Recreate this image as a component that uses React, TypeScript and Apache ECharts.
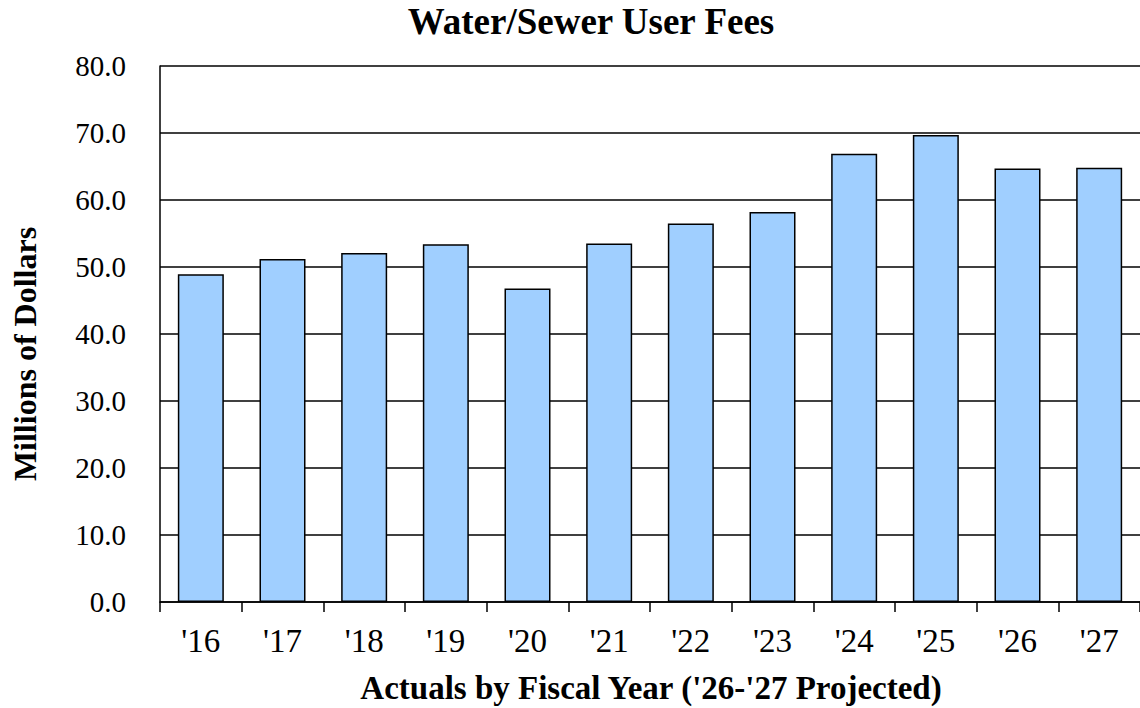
import React, { useEffect, useRef } from "react";
import * as echarts from "echarts";

const categories = ["'16", "'17", "'18", "'19", "'20", "'21", "'22", "'23", "'24", "'25", "'26", "'27"];
const values = [48.9, 51.2, 52.1, 53.4, 46.8, 53.5, 56.5, 58.2, 66.9, 69.7, 64.7, 64.8];
const yTicks = [0, 10, 20, 30, 40, 50, 60, 70, 80];

const titleText = "Water/Sewer User Fees";
const xName = "Actuals by Fiscal Year ('26-'27 Projected)";
const yName = "Millions of Dollars";

const FONT = "Liberation Serif";

export default function App() {
  const ref = useRef<HTMLDivElement>(null);
  useEffect(() => {
    document.body.style.margin = "0";
    const chart = echarts.init(ref.current!, null, { renderer: "svg" });
    chart.setOption({
      animation: false,
      backgroundColor: "#ffffff",
      textStyle: { fontFamily: FONT },
      grid: { left: 160, top: 66, width: 982, height: 536, containLabel: false },
      graphic: [
        {
          type: "text",
          x: 591,
          y: 21,
          style: {
            text: titleText,
            fontFamily: FONT,
            fontWeight: "bold",
            fontSize: 37,
            fill: "#000",
            align: "center",
            verticalAlign: "middle",
          },
        },
        {
          type: "text",
          x: 651,
          y: 688,
          style: {
            text: xName,
            fontFamily: FONT,
            fontWeight: "bold",
            fontSize: 33,
            fill: "#000",
            align: "center",
            verticalAlign: "middle",
          },
        },
        {
          type: "text",
          x: 25,
          y: 354,
          rotation: Math.PI / 2,
          style: {
            text: yName,
            fontFamily: FONT,
            fontWeight: "bold",
            fontSize: 32,
            fill: "#000",
            align: "center",
            verticalAlign: "middle",
          },
        },
      ],
      xAxis: {
        type: "category",
        data: categories,
        boundaryGap: true,
        axisLine: { show: true, lineStyle: { color: "#000", width: 1.5 } },
        axisTick: { show: true, length: 10, lineStyle: { color: "#000", width: 1.5 } },
        axisLabel: { color: "#000", fontSize: 33, fontFamily: FONT, margin: 22 },
      },
      yAxis: {
        type: "value",
        min: 0,
        max: 80,
        interval: 10,
        axisLine: { show: true, lineStyle: { color: "#000", width: 1.5 } },
        axisTick: { show: false },
        axisLabel: {
          color: "#000",
          fontSize: 29,
          fontFamily: FONT,
          margin: 34,
          formatter: (v: number) => (yTicks.includes(v) ? v.toFixed(1) : ""),
        },
        splitLine: { show: true, lineStyle: { color: "#000", width: 1.5 } },
      },
      series: [
        {
          type: "bar",
          data: values,
          barWidth: 46,
          itemStyle: { color: "#A0CFFF", borderColor: "#000", borderWidth: 1.5 },
        },
      ],
    });
    return () => chart.dispose();
  }, []);
  return <div ref={ref} style={{ width: 1140, height: 708 }} />;
}
